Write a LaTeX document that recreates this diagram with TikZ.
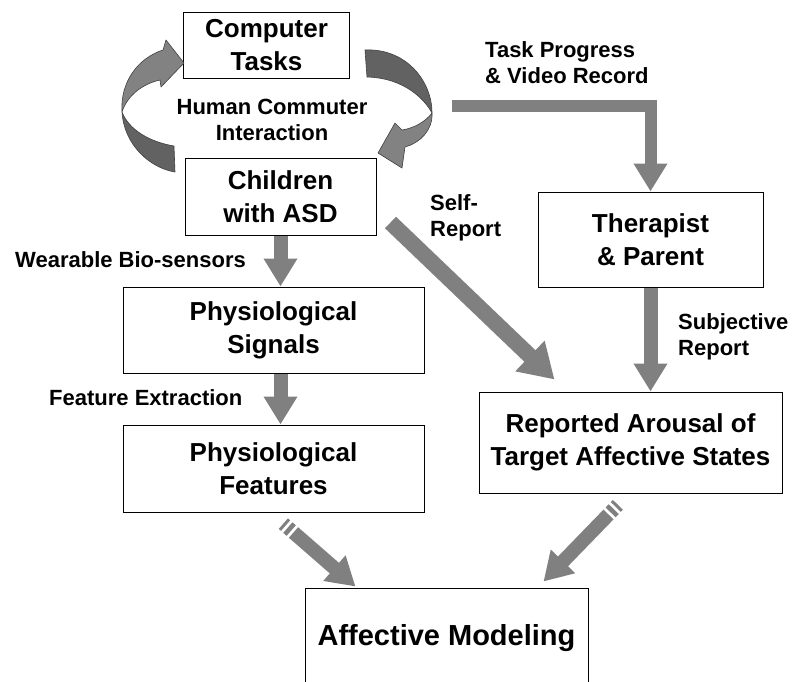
\documentclass[tikz,border=0pt]{standalone}
\usepackage{fontspec}
\setmainfont{Liberation Sans}
\usetikzlibrary{arrows.meta,calc,positioning}
\definecolor{arrowgray}{RGB}{128,128,128}
\definecolor{ribbondark}{RGB}{98,98,98}
\definecolor{ribbonlight}{RGB}{130,130,130}
\tikzset{
  box/.style={draw=black, line width=1pt, fill=white, align=center, inner sep=0pt,
    font=\fontsize{26}{33}\selectfont\bfseries},
  lbl/.style={font=\fontsize{22}{26}\selectfont\bfseries, inner sep=0pt},
  blockarrow/.style={draw=arrowgray, line width=14pt, line cap=butt,
    -{Triangle[length=28pt,width=32pt]}},
  stripe/.style={draw=arrowgray, line width=14pt, line cap=butt},
  ribbon/.style={draw=black!75, line width=0.6pt, line join=round},
}
\begin{document}
\begin{tikzpicture}[x=1pt, y=-1pt]
  \useasboundingbox (0,0) rectangle (804,681);

  % boxes
  \node[box, minimum width=166pt, minimum height=66pt] (comp) at (266.5,45) {Computer\\Tasks};
  \node[box, minimum width=191pt, minimum height=77pt] (child) at (280.5,196.5) {Children\\with ASD};
  \node[box, minimum width=301pt, minimum height=86pt] (signals) at (273.5,330) {Physiological\\Signals};
  \node[box, minimum width=301pt, minimum height=87pt] (features) at (273.5,468.5) {Physiological\\Features};
  \node[box, minimum width=225pt, minimum height=95pt] (therapist) at (650.5,239.5) {Therapist\\\& Parent};
  \node[box, minimum width=303pt, minimum height=101pt] (arousal) at (630.5,442.5) {Reported Arousal of\\Target Affective States};
  \node[box, minimum width=283pt, minimum height=100pt, font=\fontsize{29}{33}\selectfont\bfseries]
    (model) at (446.5,638) {Affective Modeling};

  % labels
  \node[lbl, align=center] (hci) at (272,120) {Human Commuter\\Interaction};
  \node[lbl, align=left, anchor=west] (taskrec) at (485,63) {Task Progress\\\& Video Record};
  \node[lbl, align=left, anchor=west] (selfrep) at (430,218) {Self-\\Report};
  \node[lbl, anchor=west] (wear) at (15,260) {Wearable Bio-sensors};
  \node[lbl, anchor=west] (featex) at (49,398) {Feature Extraction};
  \node[lbl, align=left, anchor=west] (subj) at (678,337) {Subjective\\Report};

  % curved interaction arrows
  \fill[ribbonlight] (122,112) .. controls (120,82) and (138,58) .. (163,50)
    -- (166,40) -- (184,63) -- (161,87) -- (160,80)
    .. controls (142,84) and (127,96) .. cycle;
  \draw[ribbon] (122,112) .. controls (120,82) and (138,58) .. (163,50)
    -- (166,40) -- (184,63) -- (161,87) -- (160,80)
    .. controls (142,84) and (127,96) .. cycle;
  \filldraw[ribbon, fill=ribbondark] (122,112) .. controls (124,145) and (150,168) .. (175,172)
    -- (174,146) .. controls (150,142) and (129,130) .. cycle;

  \filldraw[ribbon, fill=ribbondark] (365,50) .. controls (405,48) and (432,80) .. (432,113)
    .. controls (425,100) and (405,78) .. (367,77) -- cycle;
  \filldraw[ribbon, fill=ribbonlight] (432,113) .. controls (433,130) and (420,143) .. (405,147)
    -- (402,168) -- (378,153) -- (395,123) -- (402,130)
    .. controls (415,128) and (426,121) .. cycle;

  % straight arrows
  \draw[blockarrow] (child.south) -- (child.south |- signals.north);
  \draw[blockarrow] (signals.south -| child.south) -- (features.north -| child.south);
  \coordinate (tpstart) at (452,106);
  \draw[blockarrow, line width=12pt, line join=miter] (tpstart) -| (therapist.north);
  \draw[blockarrow] (therapist.south) -- (therapist.south |- arousal.north);
  \coordinate (srtail) at ([xshift=14pt,yshift=13pt]child.south east);
  \coordinate (srtip) at ([xshift=76pt,yshift=12pt]arousal.north west);
  \draw[blockarrow, line width=16pt, -{Triangle[length=34pt,width=40pt]}] (srtail) -- (srtip);

  % striped arrows into modeling
  \coordinate (fmtail) at ([xshift=20pt,yshift=-20pt]features.south);
  \coordinate (fmtip) at ([xshift=51pt,yshift=1pt]model.north west);
  \draw[blockarrow] (fmtail) -- (fmtip);
  \draw[stripe] ($(fmtail)!-3pt!(fmtip)$) -- ($(fmtail)!-7.5pt!(fmtip)$);
  \draw[stripe] ($(fmtail)!-10.5pt!(fmtip)$) -- ($(fmtail)!-13.5pt!(fmtip)$);
  \coordinate (amtail) at ([xshift=-22pt,yshift=-21pt]arousal.south);
  \coordinate (amtip) at ([xshift=-45pt,yshift=6pt]model.north east);
  \draw[blockarrow] (amtail) -- (amtip);
  \draw[stripe] ($(amtail)!-3pt!(amtip)$) -- ($(amtail)!-7.5pt!(amtip)$);
  \draw[stripe] ($(amtail)!-10.5pt!(amtip)$) -- ($(amtail)!-13.5pt!(amtip)$);
\end{tikzpicture}
\end{document}
